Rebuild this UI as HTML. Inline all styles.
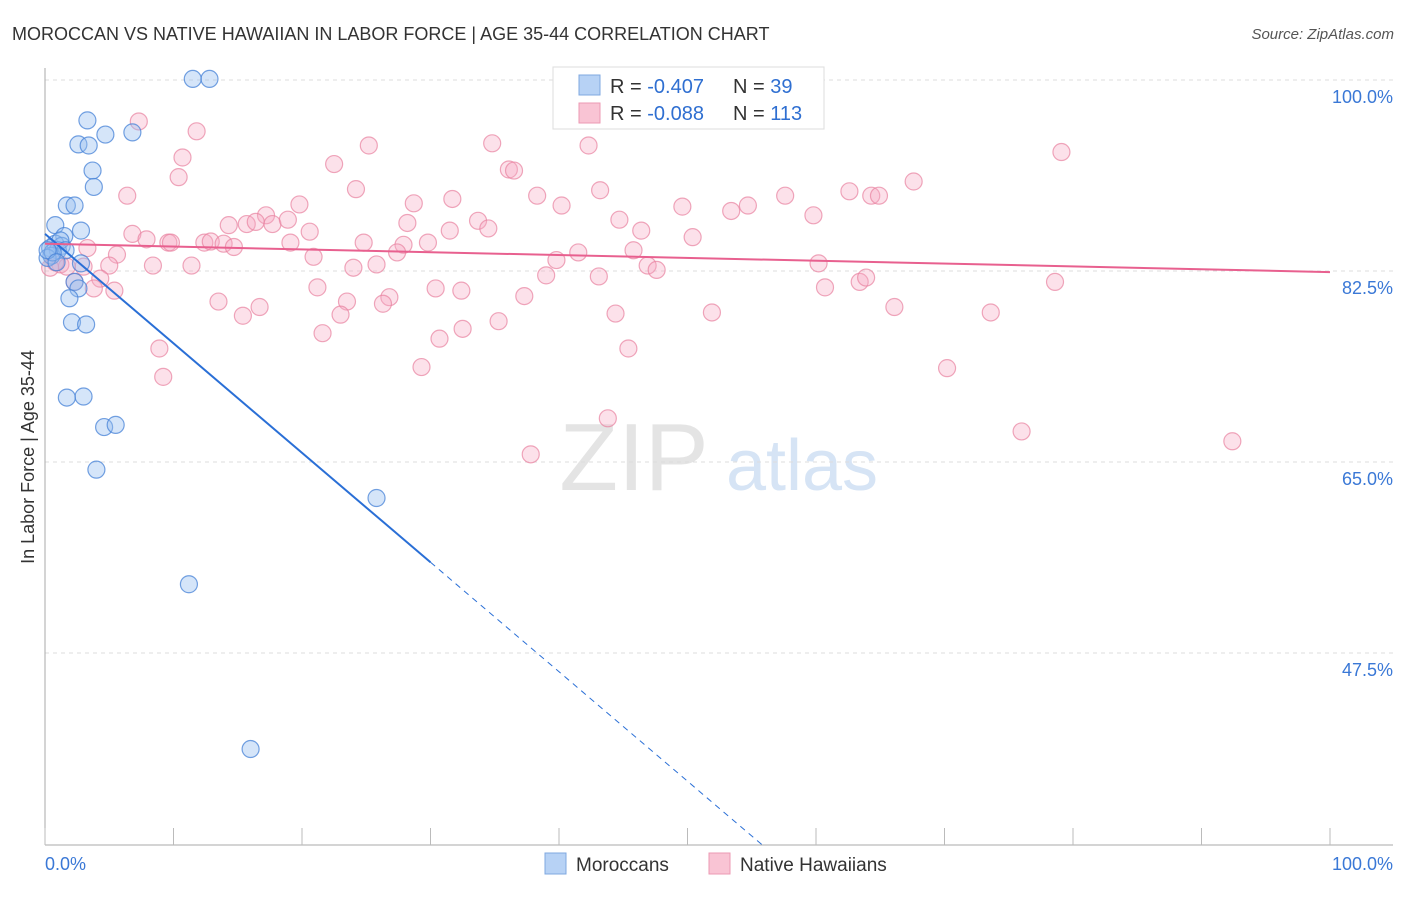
<!DOCTYPE html>
<html><head><meta charset="utf-8"><style>
body{margin:0;background:#fff;font-family:"Liberation Sans",sans-serif;}
svg text{font-family:"Liberation Sans",sans-serif;}
</style></head><body>
<svg id="chart" width="1406" height="892" viewBox="0 0 1406 892" xmlns="http://www.w3.org/2000/svg">
<text x="12" y="40" font-size="18" fill="#333">MOROCCAN VS NATIVE HAWAIIAN IN LABOR FORCE | AGE 35-44 CORRELATION CHART</text>
<text x="1394" y="39" font-size="15" fill="#555" font-style="italic" text-anchor="end">Source: ZipAtlas.com</text>
<g>
<text x="634" y="490" font-size="96" fill="#e4e4e4" font-family="Liberation Serif" text-anchor="middle">ZIP</text>
<text x="802" y="490" font-size="72" fill="#d6e4f5" text-anchor="middle">atlas</text>
</g>
<g id="grid"></g>
<g id="axes"></g>
<text transform="translate(34,457) rotate(-90)" font-size="18" fill="#333" text-anchor="middle">In Labor Force | Age 35-44</text>
<g id="pts"></g>
<g id="lines"></g>
<g>
<rect x="553" y="67" width="271" height="62" fill="#fff" stroke="#ddd"/>
<rect x="579" y="75" width="21" height="20" fill="#b7d2f5" stroke="#7fa8e0"/>
<rect x="579" y="103" width="21" height="20" fill="#f9c4d4" stroke="#ec9ab3"/>
<text x="610" y="93" font-size="20" fill="#333">R = <tspan fill="#2f6fd1">-0.407</tspan></text>
<text x="733" y="93" font-size="20" fill="#333">N = <tspan fill="#2f6fd1"> 39</tspan></text>
<text x="610" y="120" font-size="20" fill="#333">R = <tspan fill="#2f6fd1">-0.088</tspan></text>
<text x="733" y="120" font-size="20" fill="#333">N = <tspan fill="#2f6fd1">113</tspan></text>
</g>
<g>
<rect x="545" y="853" width="21" height="21" fill="#b7d2f5" stroke="#7fa8e0"/>
<text x="576" y="871" font-size="19" fill="#333">Moroccans</text>
<rect x="709" y="853" width="21" height="21" fill="#f9c4d4" stroke="#ec9ab3"/>
<text x="740" y="871" font-size="19" fill="#333">Native Hawaiians</text>
</g>
</svg>
<script>
const blueX=[11.5,12.8,3.3,2.6,3.4,4.7,6.8,3.7,3.8,1.7,2.3,0.8,2.8,1.5,0.8,1.3,0.4,1.0,0.5,0.2,2.3,2.6,1.9,2.1,3.2,1.7,3.0,4.6,5.5,4.0,25.8,11.2,16.0,1.2,1.6,0.6,0.2,0.9,2.8];
const blueY=[100.1,100.1,96.3,94.1,94.0,95.0,95.2,91.7,90.2,88.5,88.5,86.7,86.2,85.7,85.0,84.8,84.6,84.4,83.9,83.7,81.5,80.9,80.0,77.8,77.6,70.9,71.0,68.2,68.4,64.3,61.7,53.8,38.7,85.3,84.4,84.2,84.4,83.3,83.2];
const pinkX=[59.3,7.3,11.8,34.8,25.2,42.3,79.1,10.7,22.5,36.1,36.5,10.4,24.2,67.6,43.2,6.4,31.7,62.6,57.6,38.3,64.3,64.9,28.7,19.8,40.2,49.6,53.4,54.7,17.2,59.8,14.3,15.7,16.4,17.7,18.9,33.7,44.7,28.2,34.5,20.6,31.5,46.4,6.8,7.9,9.6,12.4,12.9,13.9,14.7,19.1,24.8,27.9,29.8,50.4,3.3,5.6,27.4,20.9,41.5,39.8,45.8,5.0,8.4,11.4,24.0,25.8,46.9,47.6,60.2,1.2,1.7,0.4,39.0,43.1,63.4,63.9,78.6,4.3,3.8,5.4,21.2,30.4,32.4,37.3,26.8,23.5,26.3,13.5,16.7,15.4,23.0,35.3,44.4,51.9,66.1,73.6,32.5,21.6,30.7,8.9,45.4,29.3,70.2,9.2,43.8,76.0,92.4,37.8,60.7,2.3,3.0,0.8,9.8];
const pinkY=[100.1,96.2,95.3,94.2,94.0,94.0,93.4,92.9,92.3,91.8,91.7,91.1,90.0,90.7,89.9,89.4,89.1,89.8,89.4,89.4,89.4,89.4,88.7,88.6,88.5,88.4,88.0,88.5,87.6,87.6,86.7,86.8,87.0,86.8,87.2,87.1,87.2,86.9,86.4,86.1,86.2,86.2,85.9,85.4,85.1,85.1,85.2,85.0,84.7,85.1,85.1,84.9,85.1,85.6,84.6,84.0,84.2,83.8,84.2,83.5,84.4,83.0,83.0,83.0,82.8,83.1,83.0,82.6,83.2,83.1,82.9,82.8,82.1,82.0,81.5,81.9,81.5,81.8,80.9,80.7,81.0,80.9,80.7,80.2,80.1,79.7,79.5,79.7,79.2,78.4,78.5,77.9,78.6,78.7,79.2,78.7,77.2,76.8,76.3,75.4,75.4,73.7,73.6,72.8,69.0,67.8,66.9,65.7,81.0,81.5,82.9,83.3,85.1];
const yTicks=[100,82.5,65,47.5];
const yTickLabels=["100.0%","82.5%","65.0%","47.5%"];
const xTicks=[0,10,20,30,40,50,60,70,80,90,100];
const blueLine=[85.9,-1.003]; // intercept, slope
const pinkLine=[85.0,-0.026];
const NS="http://www.w3.org/2000/svg";
const X=v=>45+v*12.85;
const Y=v=>80+(100-v)*10.914;
function mk(tag,attrs,parent){const e=document.createElementNS(NS,tag);for(const k in attrs)e.setAttribute(k,attrs[k]);parent.appendChild(e);return e;}
const grid=document.getElementById('grid'),axes=document.getElementById('axes');
yTicks.forEach((t,i)=>{
  const l=mk('line',{x1:45,x2:1393,y1:Y(t),y2:Y(t),stroke:'#ddd','stroke-dasharray':'4,4'},grid);
  
  
  const tx=mk('text',{x:1393,y:Y(t)+23,'font-size':18,fill:'#3a78d6','text-anchor':'end'},axes);
  tx.textContent=yTickLabels[i];
  
  
});
mk('line',{x1:45,x2:45,y1:68,y2:845,stroke:'#aaa'},axes);
mk('line',{x1:45,x2:1393,y1:845,y2:845,stroke:'#aaa'},axes);
xTicks.forEach(t=>{
  const l=mk('line',{x1:X(t),x2:X(t),y1:828,y2:845,stroke:'#bbb'},axes);
  
  
});
const xl0=mk('text',{x:45,y:870,'font-size':18,fill:'#3a78d6'},axes);xl0.textContent='0.0%';


const xl1=mk('text',{x:1393,y:870,'font-size':18,fill:'#3a78d6','text-anchor':'end'},axes);xl1.textContent='100.0%';


const pts=document.getElementById('pts');
pinkX.forEach((v,i)=>{
  const c=mk('circle',{cx:X(v),cy:Y(pinkY[i]),r:8.5,fill:'rgba(245,170,195,0.35)',stroke:'rgba(232,130,160,0.7)','stroke-width':1.2},pts);
  
  
});
blueX.forEach((v,i)=>{
  const c=mk('circle',{cx:X(v),cy:Y(blueY[i]),r:8.5,fill:'rgba(150,190,240,0.4)',stroke:'rgba(70,130,215,0.75)','stroke-width':1.2},pts);
  
  
});
const lines=document.getElementById('lines');
const bf=x=>blueLine[0]+blueLine[1]*x, pf=x=>pinkLine[0]+pinkLine[1]*x;
const bx2=(29.9-blueLine[0])/blueLine[1];
const b1=mk('line',{x1:X(0),y1:Y(bf(0)),x2:X(30),y2:Y(bf(30)),stroke:'#2a6fd6','stroke-width':2},lines);


const b2=mk('line',{x1:X(30),y1:Y(bf(30)),x2:X(bx2),y2:Y(bf(bx2)),stroke:'#2a6fd6','stroke-width':1,'stroke-dasharray':'6,5'},lines);


const p1=mk('line',{x1:X(0),y1:Y(pf(0)),x2:X(100),y2:Y(pf(100)),stroke:'#e8608f','stroke-width':2},lines);


</script>
</body></html>
